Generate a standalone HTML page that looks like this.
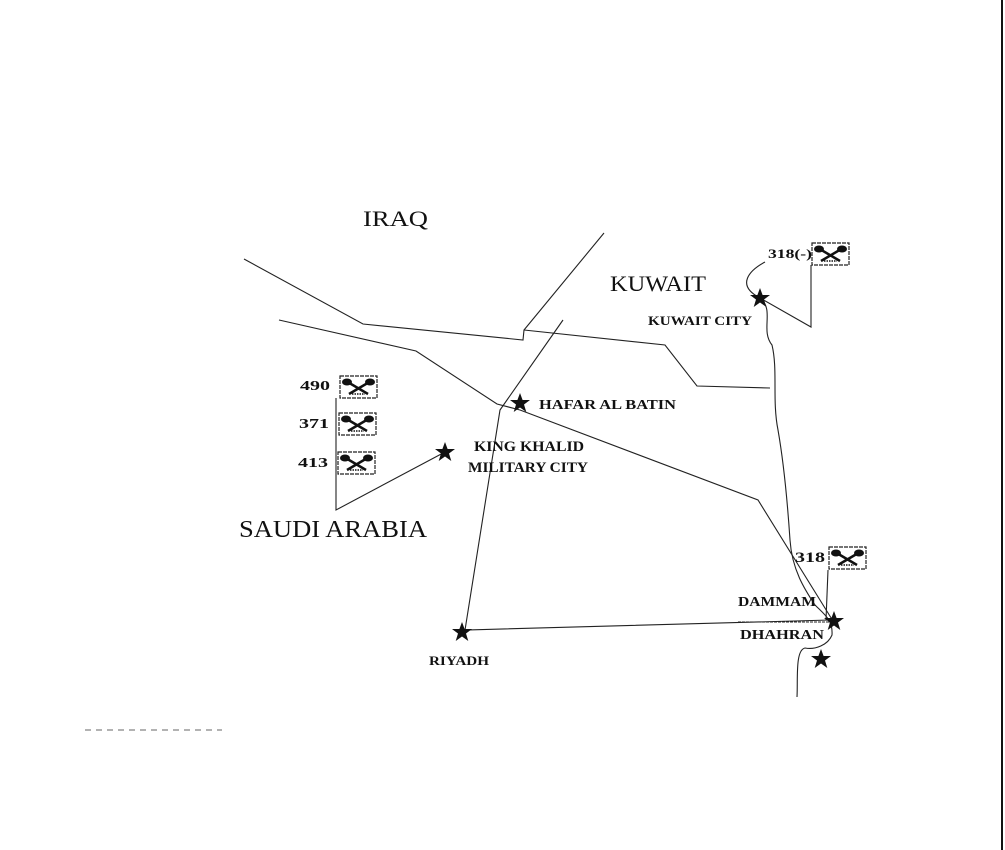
<!DOCTYPE html>
<html><head><meta charset="utf-8"><style>
html,body{margin:0;padding:0;background:#fff;}
svg{display:block}
text{font-family:"Liberation Serif",serif;fill:#111;}
</style></head><body>
<svg width="1005" height="850" viewBox="0 0 1005 850" xmlns="http://www.w3.org/2000/svg">
<defs>
<g id="st"><polygon points="0,-10 2.6,-3 10,-3 4,1.5 6.3,9 0,4.5 -6.3,9 -4,1.5 -10,-3 -2.6,-3" fill="#111"/></g>
<g id="sym">
<rect x="0" y="0" width="37" height="22" fill="none" stroke="#222" stroke-width="1.2" stroke-dasharray="4,1"/>
<line x1="6" y1="5" x2="28" y2="18" stroke="#111" stroke-width="2.5"/>
<line x1="31" y1="5" x2="9" y2="18" stroke="#111" stroke-width="2.5"/>
<ellipse cx="7" cy="6" rx="5" ry="3.5" fill="#111"/>
<ellipse cx="30" cy="6" rx="5" ry="3.5" fill="#111"/>
<line x1="12" y1="18" x2="25" y2="18" stroke="#111" stroke-width="1.5" stroke-dasharray="1.5,1"/>
</g>
</defs>
<line x1="1002" y1="0" x2="1002" y2="850" stroke="#111" stroke-width="2"/>
<g fill="none" stroke="#222" stroke-width="1.1">
<polyline points="244,259 363,324 523,340 524,330 604,233"/>
<polyline points="279,320 416,351 497,404 520,410 758,500 833,621"/>
<polyline points="524,330 665,345 697,386 770,388"/>
<polyline points="563,320 500,410 465,630 830,620"/>
<path d="M765,262 C750,270 735,285 760,298 C775,310 760,330 772,345 C778,370 772,400 778,430 C785,470 788,510 790,540 C792,570 805,590 815,605 C825,615 833,620 832,635 C828,645 815,650 805,648 C795,650 798,680 797,697"/>
<polyline points="336,398 336,510 445,452"/>
<polyline points="811,265 811,327 760,298"/>
<polyline points="828,570 826,620"/>
<line x1="738" y1="622" x2="830" y2="622" stroke-dasharray="3,1"/>
</g>
<use href="#sym" x="340" y="376"/>
<use href="#sym" x="339" y="413"/>
<use href="#sym" x="338" y="452"/>
<use href="#sym" x="812" y="243"/>
<use href="#sym" x="829" y="547"/>
<use href="#st" x="760" y="298"/>
<use href="#st" x="520" y="403"/>
<use href="#st" x="445" y="452"/>
<use href="#st" x="462" y="632"/>
<use href="#st" x="834" y="621"/>
<use href="#st" x="821" y="659"/>
<text x="363" y="226" font-size="22" textLength="65" lengthAdjust="spacingAndGlyphs">IRAQ</text>
<text x="610" y="291" font-size="22" textLength="96" lengthAdjust="spacingAndGlyphs">KUWAIT</text>
<text x="648" y="325" font-size="13" font-weight="bold" textLength="104" lengthAdjust="spacingAndGlyphs">KUWAIT CITY</text>
<text x="539" y="409" font-size="14" font-weight="bold" textLength="137" lengthAdjust="spacingAndGlyphs">HAFAR AL BATIN</text>
<text x="474" y="451" font-size="15" font-weight="bold" textLength="110" lengthAdjust="spacingAndGlyphs">KING KHALID</text>
<text x="468" y="472" font-size="15" font-weight="bold" textLength="120" lengthAdjust="spacingAndGlyphs">MILITARY CITY</text>
<text x="239" y="537" font-size="24" textLength="188" lengthAdjust="spacingAndGlyphs">SAUDI ARABIA</text>
<text x="429" y="665" font-size="13" font-weight="bold" textLength="60" lengthAdjust="spacingAndGlyphs">RIYADH</text>
<text x="738" y="606" font-size="14" font-weight="bold" textLength="78" lengthAdjust="spacingAndGlyphs">DAMMAM</text>
<text x="740" y="639" font-size="14" font-weight="bold" textLength="84" lengthAdjust="spacingAndGlyphs">DHAHRAN</text>
<text x="300" y="390" font-size="14" font-weight="bold" textLength="30" lengthAdjust="spacingAndGlyphs">490</text>
<text x="299" y="428" font-size="14" font-weight="bold" textLength="30" lengthAdjust="spacingAndGlyphs">371</text>
<text x="298" y="467" font-size="14" font-weight="bold" textLength="30" lengthAdjust="spacingAndGlyphs">413</text>
<text x="768" y="258" font-size="13" font-weight="bold" textLength="44" lengthAdjust="spacingAndGlyphs">318(-)</text>
<text x="795" y="562" font-size="15" font-weight="bold" textLength="30" lengthAdjust="spacingAndGlyphs">318</text>
<line x1="85" y1="730" x2="222" y2="730" stroke="#666" stroke-width="1" stroke-dasharray="6,5"/>
</svg>
</body></html>
